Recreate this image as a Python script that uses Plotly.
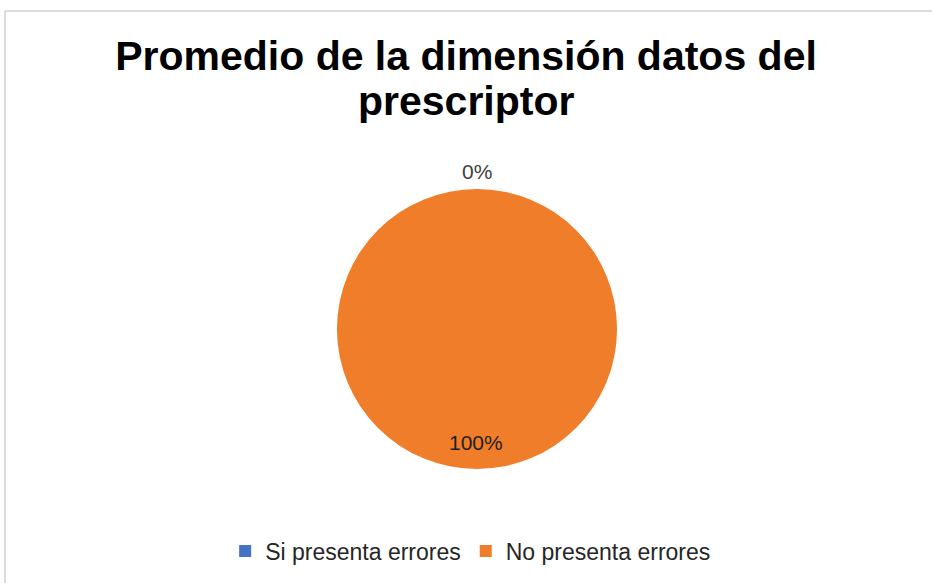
import plotly.graph_objects as go

title_line1 = "Promedio de la dimensión datos del"
title_line2 = "prescriptor"
categories = ["Si presenta errores", "No presenta errores"]
values = [0, 100]
colors = ["#4472C4", "#F07D2A"]

total = sum(values)
pcts = [f"{round(v / total * 100)}%" for v in values]

W, H = 932, 583
FONT = "Liberation Sans, Arial"

fig = go.Figure()
fig.add_trace(go.Pie(
    labels=categories,
    values=values,
    marker=dict(colors=colors, line=dict(width=0)),
    textinfo="none",
    sort=False,
    direction="clockwise",
    rotation=0,
    domain=dict(x=[337 / W, 617 / W], y=[1 - 469 / H, 1 - 189 / H]),
    hoverinfo="label+percent",
))

# data labels
fig.add_annotation(text=pcts[0], x=477 / W, y=1 - 171 / H, xref="paper", yref="paper",
                   xanchor="center", yanchor="middle",
                   showarrow=False, font=dict(family=FONT, size=21, color="#404040"))
fig.add_annotation(text=pcts[1], x=476 / W, y=1 - 442 / H, xref="paper", yref="paper",
                   xanchor="center", yanchor="middle",
                   showarrow=False, font=dict(family=FONT, size=21, color="#1F1F1F"))

# second title line
fig.add_annotation(text=title_line2, x=0.5, y=1 - 101 / H, xref="paper", yref="paper",
                   xanchor="center", yanchor="middle", showarrow=False,
                   font=dict(family=FONT, size=41, color="#000000", weight="bold"))

# chart-area border (top and left edges only)
fig.add_shape(type="line", xref="paper", yref="paper", x0=5 / W, x1=1.0, y0=1 - 11 / H, y1=1 - 11 / H,
              line=dict(color="#DCDCDC", width=2))
fig.add_shape(type="line", xref="paper", yref="paper", x0=5 / W, x1=5 / W, y0=0.0, y1=1 - 11 / H,
              line=dict(color="#DCDCDC", width=2))

fig.update_layout(
    width=W, height=H,
    margin=dict(l=0, r=0, t=0, b=0, autoexpand=False),
    paper_bgcolor="white",
    plot_bgcolor="white",
    title=dict(text=title_line1, x=0.5, xanchor="center", y=1 - 56 / H, yanchor="middle",
               font=dict(family=FONT, size=41, color="#000000", weight="bold")),
    showlegend=True,
    legend=dict(orientation="h", x=0.505, xanchor="center", y=1 - 551 / H, yanchor="middle",
                font=dict(family=FONT, size=23, color="#262626"),
                traceorder="normal"),
)

fig.write_html("out.html", config={"displayModeBar": False},
               post_script="document.body.style.margin='0';")
